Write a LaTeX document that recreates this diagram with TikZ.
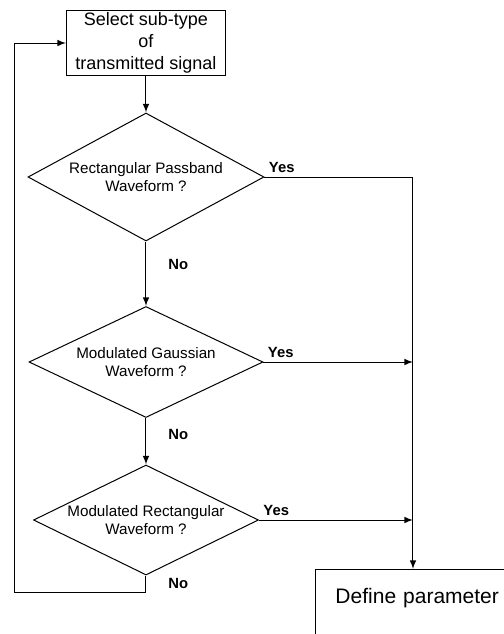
\documentclass[tikz,border=0pt]{standalone}
\usepackage{fontspec}
\setmainfont{Liberation Sans}
\usepackage{tikz}
\usetikzlibrary{shapes.geometric, arrows, positioning}

\begin{document}
\begin{tikzpicture}[x=0.5pt, y=-0.5pt, >=latex, line width=0.5pt,
    decision/.style={draw, diamond, aspect=2, inner sep=0pt, align=center, font=\fontsize{7.6}{9}\selectfont},
    block/.style={draw, rectangle, align=center},
    lbl/.style={font=\bfseries\fontsize{7.4}{9}\selectfont, inner sep=2pt}]
    % Frame: the page cuts through the last box
    \useasboundingbox (0,0) rectangle (504,634);
    \clip (0,0) rectangle (504,634);

    % Start block
    \node [block, minimum width=79.5pt, minimum height=32.5pt, inner sep=1pt, font=\fontsize{9}{11}\selectfont] (sel) at (146,43) {Select sub-type\\of\\transmitted signal};

    % Decisions (stacked under the start block)
    \node [decision, minimum width=118pt, minimum height=64pt] (rectpb) at (146,177) {Rectangular Passband\\Waveform ?};
    \node [decision, minimum width=117pt, minimum height=55.5pt] (modgauss) at (146,362) {Modulated Gaussian\\Waveform ?};
    \node [decision, minimum width=112.5pt, minimum height=55pt] (modrect) at (146,520) {Modulated Rectangular\\Waveform ?};

    % Next block, only its top shows
    \node [draw, anchor=north west, align=left, inner xsep=10pt, inner ysep=9.2pt, text width=110pt, text height=7.6pt, text depth=40pt, font=\fontsize{10.5}{12}\selectfont] (defpar) at (315,569) {Define parameter};

    % Turn points
    \coordinate (bus) at (413,0);
    \coordinate (loop_turn) at (15,592);

    % Main line down
    \draw [->] (sel) -- (rectpb);
    \draw [->] (rectpb) -- node[lbl, right=9pt, pos=0.35] {No} (modgauss);
    \draw [->] (modgauss) -- node[lbl, right=9pt, pos=0.35] {No} (modrect);

    % Yes branches join the bus
    \draw [->] (rectpb.east) -| node[lbl, above right, pos=0] {Yes} (defpar.north -| bus);
    \draw [->] (modgauss.east) -- node[lbl, above right, pos=0] {Yes} (modgauss.east -| bus);
    \draw [->] (modrect.east) -- node[lbl, above right, pos=0] {Yes} (modrect.east -| bus);

    % Back to the start
    \draw [->] (modrect.south) |- node[lbl, right=9pt, pos=0.25] {No} (loop_turn) |- (sel.west);

\end{tikzpicture}
\end{document}
